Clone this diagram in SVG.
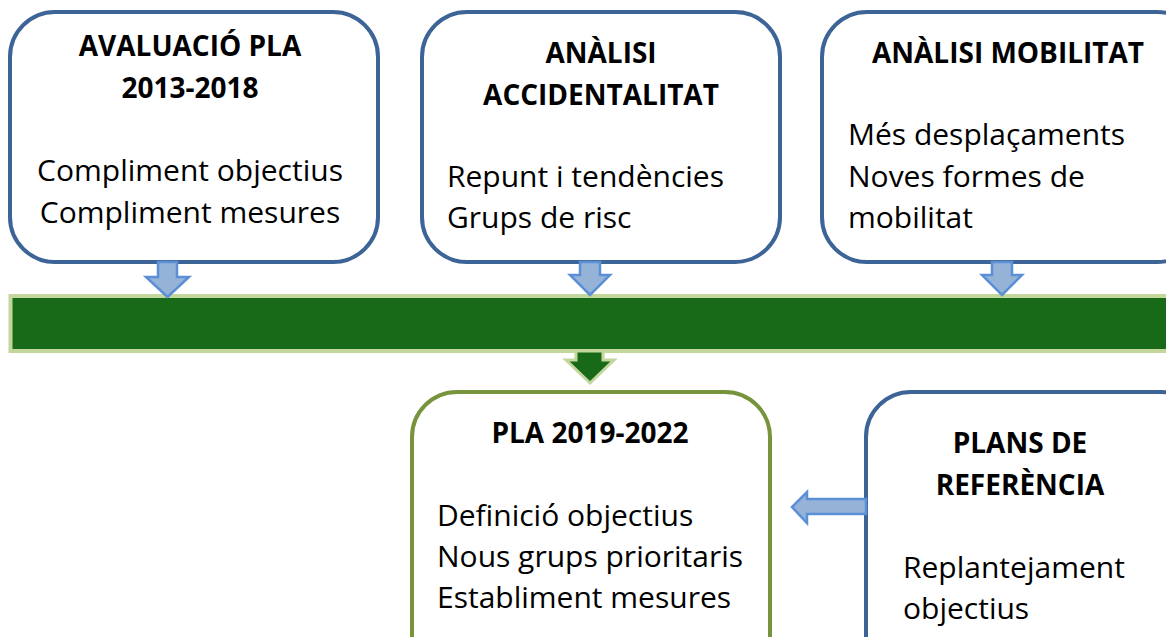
<svg xmlns="http://www.w3.org/2000/svg" width="1166" height="637" viewBox="0 0 1166 637">
<style>
.box{fill:#fff;stroke:#3c6496;stroke-width:4}
.gbox{fill:#fff;stroke:#77933c;stroke-width:4}
.t{font-family:"Open Sans","Liberation Sans",sans-serif;font-weight:bold;font-size:28px;fill:#000}
.b{font-family:"Open Sans","Liberation Sans",sans-serif;font-size:30px;fill:#000}
.arr{fill:#95b3d7;stroke:#5b8fd6;stroke-width:2.5}
</style>
<rect width="1166" height="637" fill="#fff"/>
<g id="avaluacio">
<rect class="box" x="10" y="12" width="368" height="250" rx="45"/>
<text class="t" x="190" y="56" text-anchor="middle">AVALUACIÓ PLA</text>
<text class="t" x="190" y="98" text-anchor="middle">2013-2018</text>
<text class="b" x="190" y="181" text-anchor="middle">Compliment objectius</text>
<text class="b" x="190" y="223" text-anchor="middle">Compliment mesures</text>
</g>
<g id="accidentalitat">
<rect class="box" x="422" y="12" width="358" height="250" rx="45"/>
<text class="t" x="601" y="63" text-anchor="middle">ANÀLISI</text>
<text class="t" x="601" y="105" text-anchor="middle">ACCIDENTALITAT</text>
<text class="b" x="447" y="187">Repunt i tendències</text>
<text class="b" x="447" y="228">Grups de risc</text>
</g>
<g id="mobilitat">
<rect class="box" x="822" y="12" width="380" height="250" rx="45"/>
<text class="t" x="1008" y="63" text-anchor="middle">ANÀLISI MOBILITAT</text>
<text class="b" x="848" y="145">Més desplaçaments</text>
<text class="b" x="848" y="187">Noves formes de</text>
<text class="b" x="848" y="228">mobilitat</text>
</g>
<g id="barra">
<rect x="10.5" y="296" width="1180" height="55" fill="#186a18" stroke="#c3d69b" stroke-width="4"/>
</g>
<g id="pla">
<rect class="gbox" x="412" y="392" width="358" height="290" rx="45"/>
<text class="t" x="590" y="443" text-anchor="middle">PLA 2019-2022</text>
<text class="b" x="437" y="526">Definició objectius</text>
<text class="b" x="437" y="567">Nous grups prioritaris</text>
<text class="b" x="437" y="608">Establiment mesures</text>
</g>
<g id="referencia">
<rect class="box" x="866" y="392" width="340" height="290" rx="45"/>
<text class="t" x="1020" y="453" text-anchor="middle">PLANS DE</text>
<text class="t" x="1020" y="495" text-anchor="middle">REFERÈNCIA</text>
<text class="b" x="903" y="578">Replantejament</text>
<text class="b" x="903" y="619">objectius</text>
</g>
<g id="connectors">
<path class="arr" d="M158,262 H177 V277 H189 L167.5,297 L146,277 H158 Z"/>
<path class="arr" d="M580,262 H600 V275 H610 L590,295 L570,275 H580 Z"/>
<path class="arr" d="M992,262 H1012 V275 H1022 L1002,295 L982,275 H992 Z"/>
<path d="M576,351 H603 V360 H614 L590,383 L566,360 H576 Z" fill="#186a18" stroke="#c3d69b" stroke-width="3"/>
<path class="arr" d="M866,499 H807 V492 L792,507 L807,523 V514 H866 Z"/>
</g>
</svg>
